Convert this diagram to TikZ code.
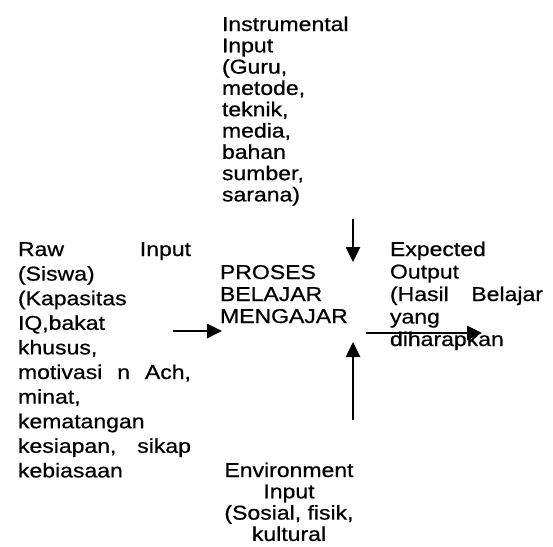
\documentclass[tikz,border=0pt]{standalone}
\usepackage{fontspec}
\setmainfont[FakeStretch=1.15,FakeBold=0.6]{Liberation Sans}
\usetikzlibrary{arrows.meta}
\newcommand{\leftlines}[2]{\vtop{\baselineskip=#1\relax\lineskip=0pt\relax\halign{##\hfil\cr#2\crcr}}}
\newcommand{\centerlines}[2]{\vtop{\baselineskip=#1\relax\lineskip=0pt\relax\halign{\hfil##\hfil\cr#2\crcr}}}
\tikzset{
  txt/.style={inner sep=0pt, outer sep=0pt, anchor=base west, font=\fontsize{20}{22}\selectfont, text=black},
  ctxt/.style={txt, anchor=base},
  arr/.style={line width=2.6pt, -{Triangle[length=15pt,width=14pt]}, black}
}
\begin{document}
\begin{tikzpicture}[x=1pt,y=1pt]
\useasboundingbox[fill=white] (0,0) rectangle (553,-546);
\node[txt] (instr) at (222,-31) {\leftlines{21.3pt}{Instrumental\cr Input\cr (Guru,\cr metode,\cr teknik,\cr media,\cr bahan\cr sumber,\cr sarana)}};
\node[txt] (raw) at (18,-256) {\leftlines{24.6pt}{\makebox[173pt][s]{Raw Input}\cr (Siswa)\cr (Kapasitas\cr IQ,bakat\cr khusus,\cr \makebox[173pt][s]{motivasi n Ach,}\cr minat,\cr kematangan\cr \makebox[173pt][s]{kesiapan, sikap}\cr kebiasaan}};
\node[txt] (proses) at (220,-279) {\leftlines{22pt}{PROSES\cr BELAJAR\cr MENGAJAR}};
\node[txt] (out) at (390,-256) {\leftlines{22.5pt}{Expected\cr Output\cr \makebox[153pt][s]{(Hasil Belajar}\cr yang\cr diharapkan}};
\node[ctxt] (env) at (289,-477) {\centerlines{21.3pt}{Environment\cr Input\cr (Sosial, fisik,\cr kultural}};
\coordinate (ls) at (173,-331);
\coordinate (le) at (222,-331);
\coordinate (ts) at (353,-219);
\coordinate (te) at (353,-262);
\coordinate (bs) at (353,-420);
\coordinate (be) at (353,-342);
\coordinate (rs) at (366,-333);
\coordinate (re) at (482,-333);
\draw[arr] (ls) -- (le);
\draw[arr] (ts) -- (te);
\draw[arr] (bs) -- (be);
\draw[arr] (rs) -- (re);
\end{tikzpicture}
\end{document}
